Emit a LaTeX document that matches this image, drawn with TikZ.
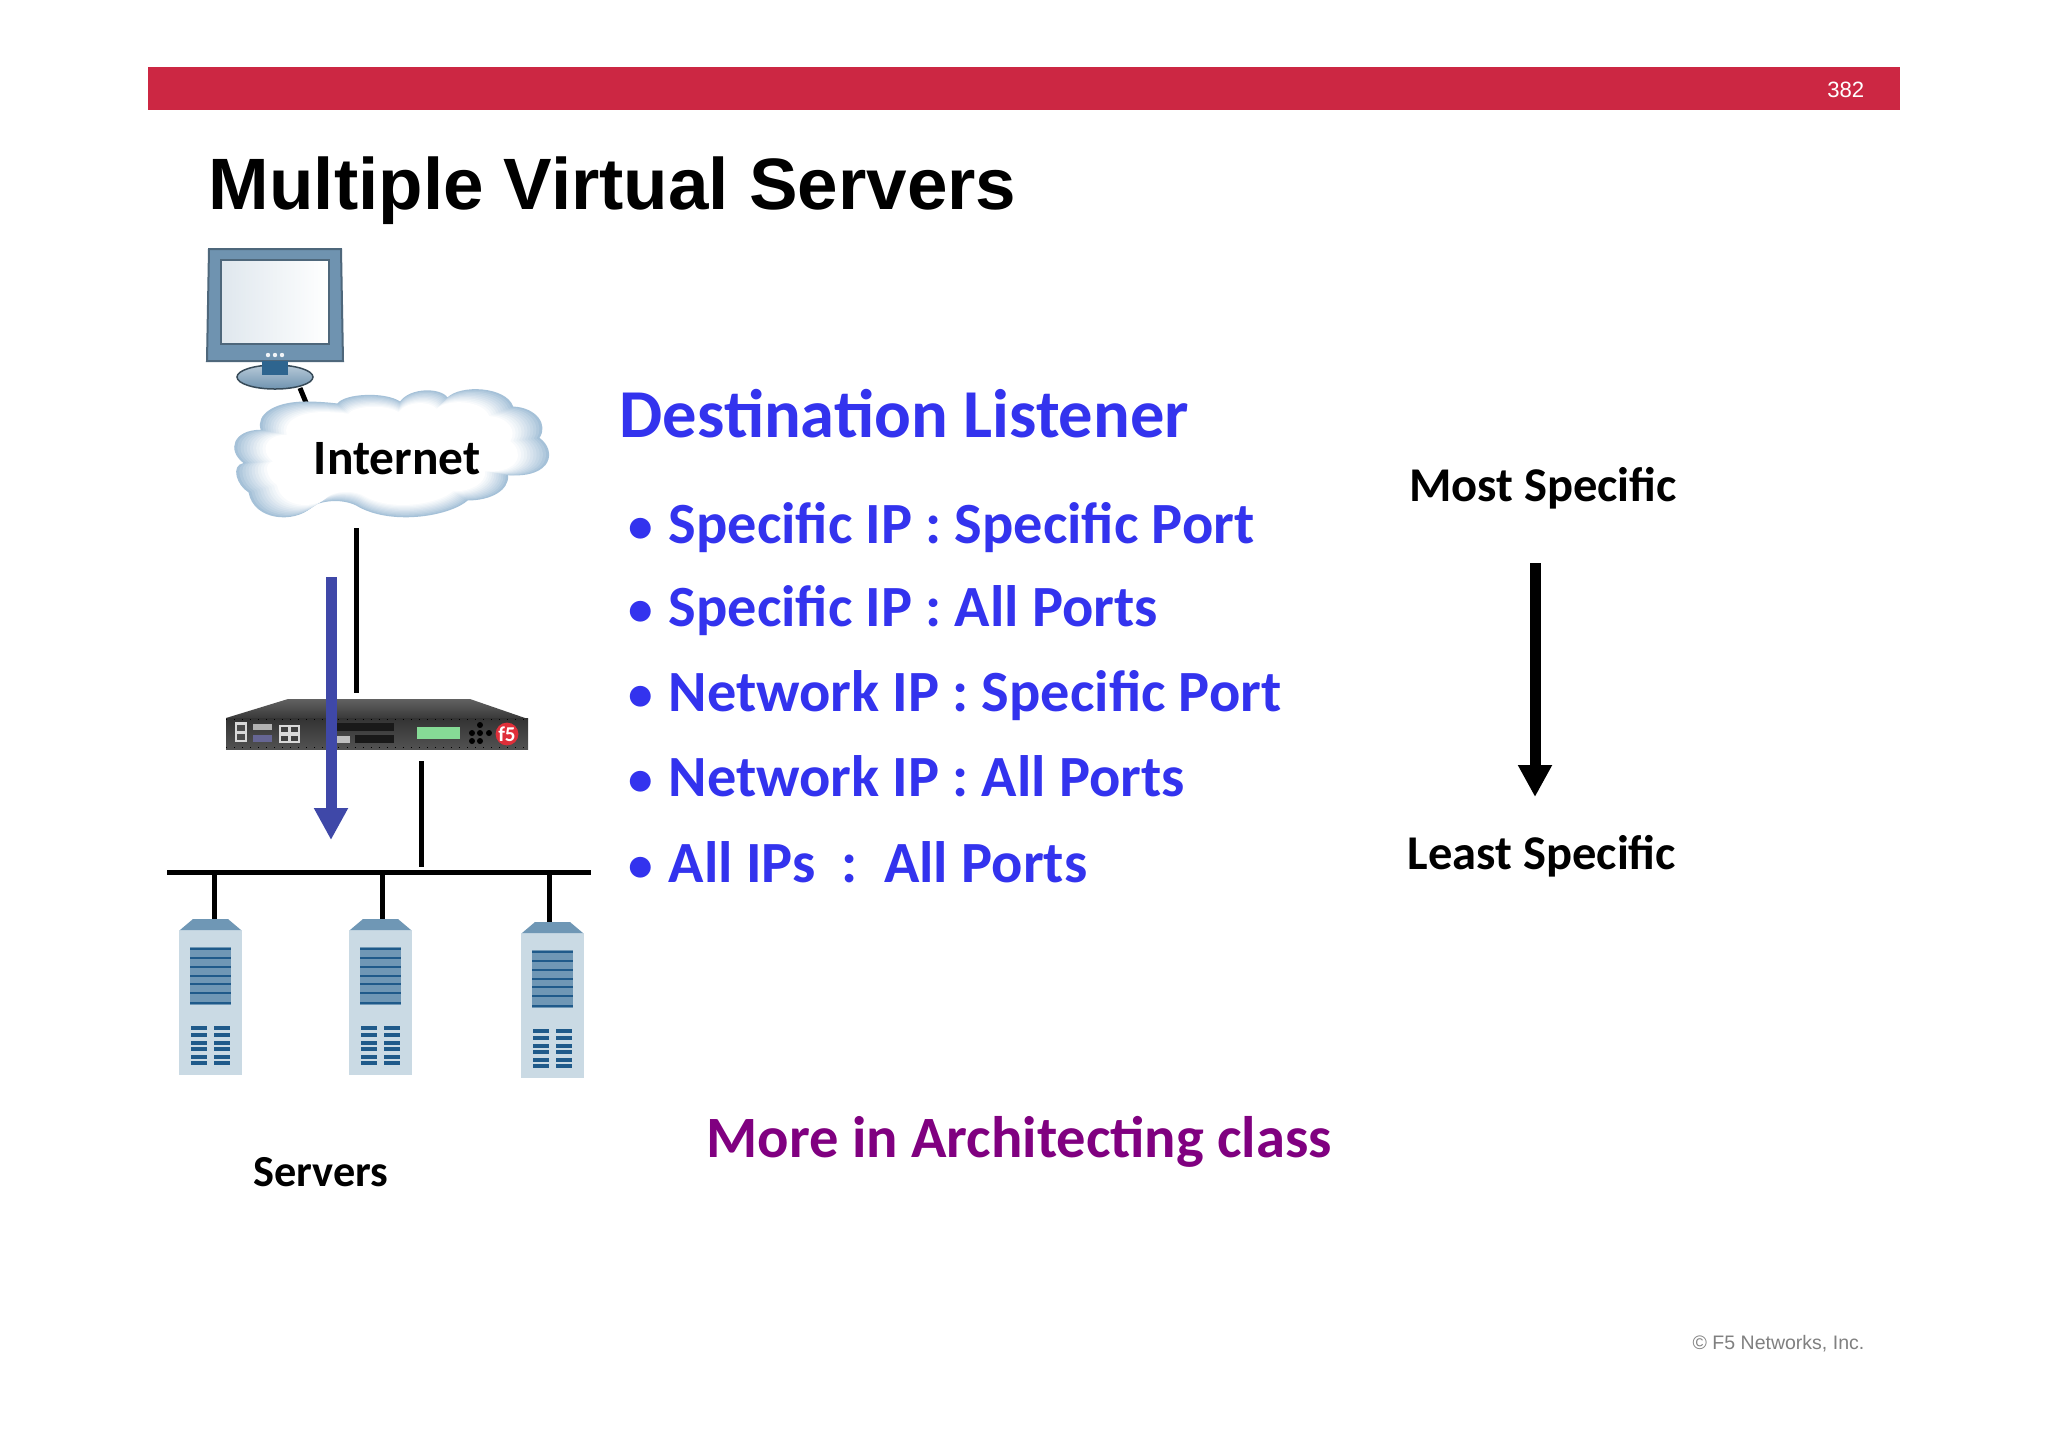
\documentclass[tikz,border=0pt]{standalone}
\usepackage{fontspec}
\setmainfont{Carlito}
\newfontfamily\arialfont{Liberation Sans}
\usetikzlibrary{arrows.meta}
\definecolor{barred}{HTML}{CC2743}
\definecolor{listblue}{HTML}{3333EE}
\definecolor{classpurple}{HTML}{800080}
\definecolor{arrowblue}{HTML}{3F48A8}
\definecolor{framecol}{HTML}{6F93B0}
\definecolor{neckcol}{HTML}{2E658F}
\definecolor{skycol}{HTML}{8FB2CF}
\definecolor{towercol}{HTML}{CADAE4}
\definecolor{panelcol}{HTML}{6F97B5}
\definecolor{slatcol}{HTML}{1F5A8A}
\definecolor{lcdcol}{HTML}{86DB96}
\definecolor{logocol}{HTML}{DF2F3A}
\newcommand{\cloudpath}{(262,430) .. controls (257,415) and (275,402) .. (307,402)
  .. controls (318,402) and (330,403) .. (338,404)
  .. controls (345,394) and (385,392) .. (400,402)
  .. controls (410,388) and (440,388) .. (447,398)
  .. controls (460,385) and (505,387) .. (512,407)
  .. controls (535,408) and (547,425) .. (538,438)
  .. controls (555,450) and (552,478) .. (507,475)
  .. controls (508,490) and (490,500) .. (467,500)
  .. controls (450,515) and (395,525) .. (360,507)
  .. controls (345,497) and (320,500) .. (312,507)
  .. controls (295,523) and (255,520) .. (250,492)
  .. controls (238,485) and (232,465) .. (245,463)
  .. controls (228,450) and (235,430) .. (262,430) -- cycle}
\begin{document}
\begin{tikzpicture}[x=0.01cm,y=-0.01cm,
  wire/.style={line width=0.05cm,black},
  heading/.style={anchor=base west,font=\bfseries\fontsize{19.5}{22}\selectfont,text=listblue,inner sep=0pt},
  listitem/.style={anchor=base west,font=\bfseries\fontsize{16.6}{20}\selectfont,text=listblue,inner sep=0pt},
  blacklabel/.style={font=\bfseries\fontsize{13.8}{16}\selectfont,text=black,inner sep=0pt}]
\newcommand{\dotmark}{\makebox[0.4cm][l]{\raisebox{0.2pt}{\fontsize{14}{16}\selectfont •}}}
\useasboundingbox (0,0) rectangle (2048,1447);
\fill[white] (0,0) rectangle (2048,1447);

\fill[barred] (148,67) rectangle (1900,110);
\node[anchor=east,text=white,inner sep=0pt,font=\arialfont\fontsize{6.3}{8}\selectfont] (page) at (1865,90) {382};
\node[anchor=base west,inner sep=0pt,font=\arialfont\bfseries\fontsize{20.7}{25}\selectfont] (title) at (208,209) {Multiple Virtual Servers};
\node[anchor=east,text=black!50,inner sep=0pt,font=\arialfont\fontsize{5.55}{7}\selectfont] (copy) at (1865,1344) {© F5 Networks, Inc.};

\fill[framecol,draw=framecol!70!black,line width=0.02cm] (209,249) -- (341,249) -- (343,361) -- (207,361) -- cycle;
\shade[shading angle=60,left color=white!78!framecol,right color=white,draw=framecol!70!black,line width=0.015cm] (221,260) rectangle (329,344);
\shade[top color=framecol!50!white,bottom color=framecol,draw=framecol!50!black,line width=0.015cm] (275,377) ellipse (38 and 12);
\fill[neckcol] (262,361) rectangle (288,375);
\foreach \n in {268,275,282}
  \fill[white!90!framecol] (\n,355) circle (2.2);

\coordinate (monitorfoot) at (300,388);
\coordinate (cloudtop) at (307,405);
\draw[wire] (monitorfoot) -- (cloudtop);

\foreach \s/\m in {1.01/80,0.99/70,0.97/60,0.95/52,0.93/44,0.91/36,0.89/28,0.87/20,0.85/13,0.83/6,0.81/0}
  \fill[skycol!\m!white,scale around={\s:(392,455)}] \cloudpath;
\node[blacklabel] (inet) at (397,459) {\fontsize{14.05}{16}\selectfont Internet};

\shade[top color=black!62,bottom color=black!78] (288,699) -- (470,699) -- (528,719) -- (226,718) -- cycle;
\shade[top color=black!80,bottom color=black!68] (226,718) rectangle (528,749);
\draw[black,line width=0.01cm,dotted] (226,719) -- (528,719);
\draw[black,line width=0.01cm,dotted] (226,747) -- (528,747);
\fill[white!85!black] (235,722) rectangle (247,742);
\fill[black!70] (237,725) rectangle (245,731);
\fill[black!70] (237,734) rectangle (245,740);
\fill[white!70!black] (253,724) rectangle (272,730);
\fill[blue!30!black!60] (253,735) rectangle (272,742);
\fill[white!85!black] (279,725) rectangle (300,743);
\foreach \n in {281,291}
  \foreach \m in {727,736}
    \fill[black!75] (\n,\m) rectangle ++(7,5);
\fill[black!90] (337,723) rectangle (394,731);
\fill[black!90] (355,735) rectangle (394,743);
\fill[white!75!black] (337,736) rectangle (350,743);
\fill[lcdcol] (417,727) rectangle (460,739);
\foreach \n/\m in {480/725,472/733,480/733,489/733,472/741,480/741}
  \fill[black] (\n,\m) circle (3);
\node[circle,fill=logocol,text=white,inner sep=0pt,minimum size=0.22cm,font=\bfseries\fontsize{6}{7}\selectfont] (logo) at (507,734) {f5};

\coordinate (upa) at (356,528);
\coordinate (upb) at (356,693);
\draw[wire] (upa) -- (upb);
\coordinate (downa) at (421,761);
\coordinate (downb) at (421,867);
\draw[wire] (downa) -- (downb);
\coordinate (flowa) at (331,577);
\coordinate (flowb) at (331,840);
\draw[arrowblue,line width=0.11cm,-{Triangle[length=0.32cm,width=0.32cm]}] (flowa) -- (flowb);

\coordinate (busa) at (167,872);
\coordinate (busb) at (591,872);
\draw[wire] (busa) -- (busb);
\foreach \n/\dx/\dy/\wx in {1/0/0/214,2/170/0/382,3/342/3/549} {
  \begin{scope}[shift={(\dx,\dy)}]
    \fill[towercol] (179,930) rectangle (242,1075);
    \fill[panelcol] (193,919) -- (228,919) -- (241,930) -- (180,930) -- cycle;
    \fill[panelcol] (190,947) rectangle (231,1005);
    \foreach \y in {949,958,967,976,984,993,1003}
      \draw[slatcol,line width=0.012cm] (190,\y) -- (231,\y);
    \foreach \y in {1028,1035,1043,1049,1057,1063} {
      \draw[slatcol,line width=0.035cm] (191,\y) -- (207,\y);
      \draw[slatcol,line width=0.035cm] (214,\y) -- (230,\y);
    }
  \end{scope}
  \coordinate (drop\n) at (\wx,872);
  \coordinate (srv\n) at (\wx,919+\dy);
  \draw[wire] (drop\n) -- (srv\n);
}
\node[blacklabel] (servers) at (321,1172) {\fontsize{12.6}{15}\selectfont Servers};

\node[heading] (dest) at (619,437) {Destination Listener};
\node[listitem] (itema) at (628,543) {\dotmark Specific IP : Specific Port};
\node[listitem] (itemb) at (628,626) {\dotmark Specific IP : All Ports};
\node[listitem] (itemc) at (628,711) {\dotmark Network IP : Specific Port};
\node[listitem] (itemd) at (628,796) {\dotmark Network IP : All Ports};
\node[listitem] (iteme) at (628,882) {\dotmark All IPs\ \ :\ \ All Ports};

\node[blacklabel] (most) at (1543,488) {Most Specific};
\node[blacklabel] (least) at (1542,856) {Least Specific};
\coordinate (speca) at (1535,563);
\coordinate (specb) at (1535,797);
\draw[black,line width=0.11cm,-{Triangle[length=0.32cm,width=0.32cm]}] (speca) -- (specb);

\node[anchor=base west,inner sep=0pt,text=classpurple,font=\bfseries\fontsize{16.65}{20}\selectfont] (more) at (706,1157) {More in Architecting class};
\end{tikzpicture}
\end{document}
